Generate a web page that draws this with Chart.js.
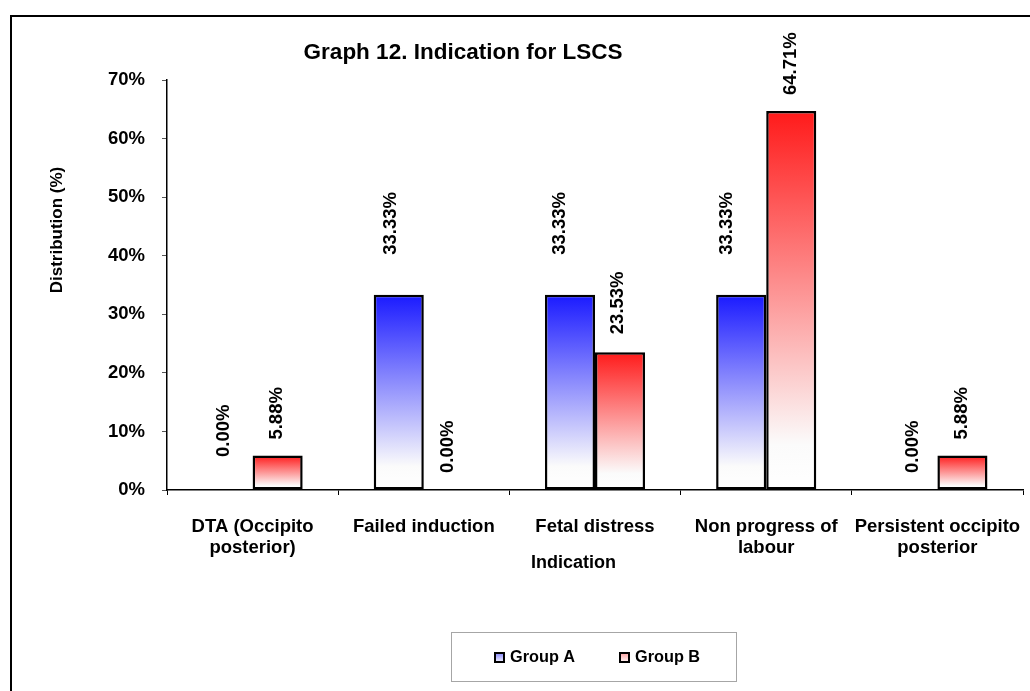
<!DOCTYPE html>
<html>
<head>
<meta charset="utf-8">
<title>Graph 12. Indication for LSCS</title>
<script src="https://cdn.jsdelivr.net/npm/chart.js@4.4.1/dist/chart.umd.min.js"></script>
<style>
  html, body { margin: 0; padding: 0; background: #ffffff; overflow: hidden; }
  #wrap { position: relative; width: 1030px; height: 691px; }
  #frame { position: absolute; left: 10px; top: 15px; width: 1100px; height: 800px;
           border: 2px solid #000; box-sizing: border-box; pointer-events: none; }
  canvas { position: absolute; left: 0; top: 0; }
</style>
</head>
<body>
<div id="wrap">
  <canvas id="chart" width="1030" height="691"></canvas>
  <div id="frame"></div>
</div>
<script>
// Indications for LSCS, share of cases in each group (%)
const categories = [
  ['DTA (Occipito', 'posterior)'],
  'Failed induction',
  'Fetal distress',
  ['Non progress of', 'labour'],
  ['Persistent occipito', 'posterior']
];
const seriesNames = ['Group A', 'Group B'];
const groupA = [0.00, 33.33, 33.33, 33.33, 0.00];
const groupB = [5.88, 0.00, 23.53, 64.71, 5.88];
const yTickValues = [0, 10, 20, 30, 40, 50, 60, 70];

// Placement of each value label relative to its bar top centre (px)
const labelLiftA = [33, 40, 40, 40, 17];
const labelLiftB = [16, 17, 18, 16, 16];
const labelShiftA = [-3, -7, -9, -13, 2];
const labelShiftB = [0, 0, -1, 1, 0];

const FONT = 'Arial, "Liberation Sans", sans-serif';
const BLUE = 'rgb(26,26,255)';
const RED = 'rgb(255,26,26)';

function barFill(top) {
  return function (ctx) {
    const chart = ctx.chart;
    if (!chart.chartArea || ctx.type !== 'data') return top;
    const y = chart.scales.y;
    const yTop = y.getPixelForValue(ctx.raw);
    const yBase = y.getPixelForValue(0);
    if (yBase - yTop < 1) return '#ffffff';
    const g = chart.ctx.createLinearGradient(0, yTop, 0, yBase);
    g.addColorStop(0, top);
    g.addColorStop(0.88, '#fbfbfb');
    g.addColorStop(1, '#ffffff');
    return g;
  };
}

const valueLabels = {
  id: 'valueLabels',
  afterDatasetsDraw(chart) {
    const c = chart.ctx;
    const lifts = [labelLiftA, labelLiftB];
    const shifts = [labelShiftA, labelShiftB];
    c.save();
    c.font = 'bold 18.5px ' + FONT;
    c.fillStyle = '#000';
    c.textAlign = 'left';
    c.textBaseline = 'middle';
    chart.data.datasets.forEach((ds, di) => {
      chart.getDatasetMeta(di).data.forEach((bar, i) => {
        const text = ds.data[i].toFixed(2) + '%';
        c.save();
        c.translate(bar.x - 1 + shifts[di][i], bar.y - lifts[di][i]);
        c.rotate(-Math.PI / 2);
        c.fillText(text, 0, 0);
        c.restore();
      });
    });
    c.restore();
  }
};

const decorations = {
  id: 'decorations',
  afterDraw(chart) {
    const c = chart.ctx;
    c.save();
    c.fillStyle = '#000';
    // title
    c.font = 'bold 22.5px ' + FONT;
    c.textAlign = 'center';
    c.textBaseline = 'middle';
    c.fillText('Graph 12. Indication for LSCS', 463, 53);
    // axis titles
    c.font = 'bold 18px ' + FONT;
    c.fillText('Indication', 573.5, 563);
    c.save();
    c.translate(57.5, 230);
    c.rotate(-Math.PI / 2);
    c.font = 'bold 17px ' + FONT;
    c.fillText('Distribution (%)', 0, 0);
    c.restore();
    // legend box
    c.strokeStyle = '#a6a6a6';
    c.lineWidth = 1;
    c.strokeRect(451.5, 632.5, 285, 49);
    const items = [
      { name: seriesNames[0], color: 'rgb(120,120,250)', x: 494 },
      { name: seriesNames[1], color: 'rgb(250,150,150)', x: 619 }
    ];
    c.font = 'bold 16.3px ' + FONT;
    c.textAlign = 'left';
    items.forEach(it => {
      const g = c.createLinearGradient(0, 652, 0, 663);
      g.addColorStop(0, it.color);
      g.addColorStop(1, '#ffffff');
      c.fillStyle = g;
      c.fillRect(it.x, 652, 11, 11);
      c.strokeStyle = '#000';
      c.lineWidth = 2;
      c.strokeRect(it.x + 1, 653, 9, 9);
      c.fillStyle = '#000';
      c.fillText(it.name, it.x + 16, 658);
    });
    c.restore();
  }
};

new Chart(document.getElementById('chart'), {
  type: 'bar',
  data: {
    labels: categories,
    datasets: [
      { label: seriesNames[0], data: groupA, backgroundColor: barFill(BLUE),
        borderColor: '#000', borderWidth: 2.5, borderSkipped: false },
      { label: seriesNames[1], data: groupB, backgroundColor: barFill(RED),
        borderColor: '#000', borderWidth: 2.5, borderSkipped: false }
    ]
  },
  options: {
    responsive: false,
    animation: false,
    devicePixelRatio: 1,
    layout: { padding: { left: 0, top: 80, right: 7, bottom: 0 } },
    datasets: { bar: { categoryPercentage: 0.585, barPercentage: 1.0 } },
    plugins: {
      legend: { display: false },
      title: { display: false },
      tooltip: { enabled: false }
    },
    scales: {
      x: {
        offset: true,
        grid: { display: true, drawOnChartArea: false, drawTicks: true, tickLength: 5,
                color: '#000', offset: true },
        border: { display: true, color: '#000', width: 1.5 },
        ticks: { color: '#000', font: { family: FONT, size: 18.5, weight: 'bold', lineHeight: 1.14 },
                 padding: 21, autoSkip: false, maxRotation: 0, minRotation: 0 },
        afterFit(scale) {
          scale.height = 201;
          scale.paddingLeft = 0;
          scale.paddingRight = 0;
        }
      },
      y: {
        min: 0, max: 70,
        grid: { display: true, drawOnChartArea: false, drawTicks: true, tickLength: 5, color: '#555' },
        border: { display: true, color: '#000', width: 1.5 },
        afterBuildTicks(scale) { scale.ticks = yTickValues.map(v => ({ value: v })); },
        ticks: { color: '#000', font: { family: FONT, size: 18.5, weight: 'bold' },
                 padding: 17, callback: v => v + '%' },
        afterFit(scale) {
          scale.width = 167;
          scale.paddingTop = 0;
          scale.paddingBottom = 0;
        }
      }
    }
  },
  plugins: [valueLabels, decorations]
});
</script>
</body>
</html>
